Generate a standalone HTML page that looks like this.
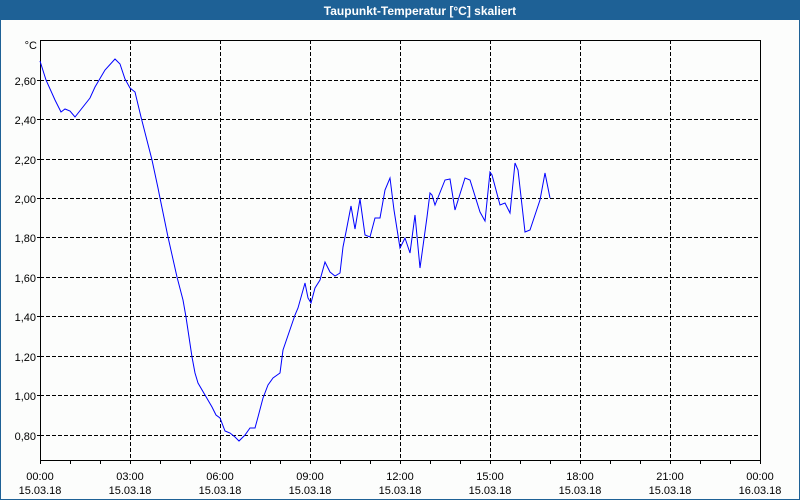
<!DOCTYPE html>
<html><head><meta charset="utf-8"><style>
html,body{margin:0;padding:0;background:#fcfdfc;}
svg{display:block;}
text{font-family:"Liberation Sans",sans-serif;font-size:11px;fill:#000;}
</style></head><body>
<svg width="800" height="500" viewBox="0 0 800 500" xmlns="http://www.w3.org/2000/svg">
<rect x="0" y="0" width="800" height="500" fill="#fcfdfc"/>
<rect x="0" y="0" width="800" height="20" fill="#1e6196"/>
<rect x="0" y="0" width="1" height="500" fill="#1e6196"/>
<rect x="799" y="0" width="1" height="500" fill="#1e6196"/>
<rect x="0" y="499" width="800" height="1" fill="#1e6196"/>
<text x="420" y="15" text-anchor="middle" style="font-weight:bold;font-size:12px;fill:#fff">Taupunkt-Temperatur [°C] skaliert</text>
<g stroke="#000" stroke-width="1" stroke-dasharray="4,2" shape-rendering="crispEdges" fill="none">
<path d="M130.5 40V460M220.5 40V460M310.5 40V460M400.5 40V460M490.5 40V460M580.5 40V460M670.5 40V460"/>
<path d="M40 80.5H760M40 119.5H760M40 159.5H760M40 198.5H760M40 237.5H760M40 277.5H760M40 316.5H760M40 356.5H760M40 395.5H760M40 435.5H760"/>
</g>
<g stroke="#000" stroke-width="1" shape-rendering="crispEdges" fill="none">
<rect x="40.5" y="40.5" width="720" height="420"/>
<path d="M37 80.5H40M37 119.5H40M37 159.5H40M37 198.5H40M37 237.5H40M37 277.5H40M37 316.5H40M37 356.5H40M37 395.5H40M37 435.5H40"/>
<path d="M40.5 460V464M70.5 460V464M100.5 460V464M130.5 460V464M160.5 460V464M190.5 460V464M220.5 460V464M250.5 460V464M280.5 460V464M310.5 460V464M340.5 460V464M370.5 460V464M400.5 460V464M430.5 460V464M460.5 460V464M490.5 460V464M520.5 460V464M550.5 460V464M580.5 460V464M610.5 460V464M640.5 460V464M670.5 460V464M700.5 460V464M730.5 460V464M760.5 460V464"/>
</g>
<g text-anchor="end">
<text x="37" y="49">°C</text>
<text x="36" y="85">2,60</text>
<text x="36" y="124">2,40</text>
<text x="36" y="164">2,20</text>
<text x="36" y="203">2,00</text>
<text x="36" y="242">1,80</text>
<text x="36" y="282">1,60</text>
<text x="36" y="321">1,40</text>
<text x="36" y="361">1,20</text>
<text x="36" y="400">1,00</text>
<text x="36" y="440">0,80</text>
</g>
<g text-anchor="middle">
<text x="40" y="480">00:00</text><text x="40" y="494">15.03.18</text>
<text x="130" y="480">03:00</text><text x="130" y="494">15.03.18</text>
<text x="220" y="480">06:00</text><text x="220" y="494">15.03.18</text>
<text x="310" y="480">09:00</text><text x="310" y="494">15.03.18</text>
<text x="400" y="480">12:00</text><text x="400" y="494">15.03.18</text>
<text x="490" y="480">15:00</text><text x="490" y="494">15.03.18</text>
<text x="580" y="480">18:00</text><text x="580" y="494">15.03.18</text>
<text x="670" y="480">21:00</text><text x="670" y="494">15.03.18</text>
<text x="760" y="480">00:00</text><text x="760" y="494">16.03.18</text>
</g>
<polyline fill="none" stroke="#0000ff" stroke-width="1" points="40,61 46,80 55,100 61,112 65,109 70,111 75,117 90,98 95,87 105,70 115,59 120,64 125,79 130,88 135,92 141,117 152,160 158,188 160,198 168,237 177,277 183,300 186,317 192,357 195,373 198,383 205,395 212,407 216,415 220,418 225,431 230,433 235,437 239,441 245,435 250,428 255,428 258,417 263,398 268,385 273,378 280,373 283,350 295,315 298,308 305,283 308,298 311,303 315,288 320,280 325,262 330,272 335,276 340,273 343,247 346,232 351,206 355,229 360,199 365,235 370,237 375,218 380,218 385,190 390,178 394,210 400,248 405,238 410,253 415,215 420,268 427,217 430,193 432,195 435,205 445,180 450,179 455,210 465,178 470,180 480,212 485,221 490,172 492,175 500,205 505,203 510,213 515,163 518,170 525,232 530,230 540,200 545,173 550,198"/>
</svg>
</body></html>
